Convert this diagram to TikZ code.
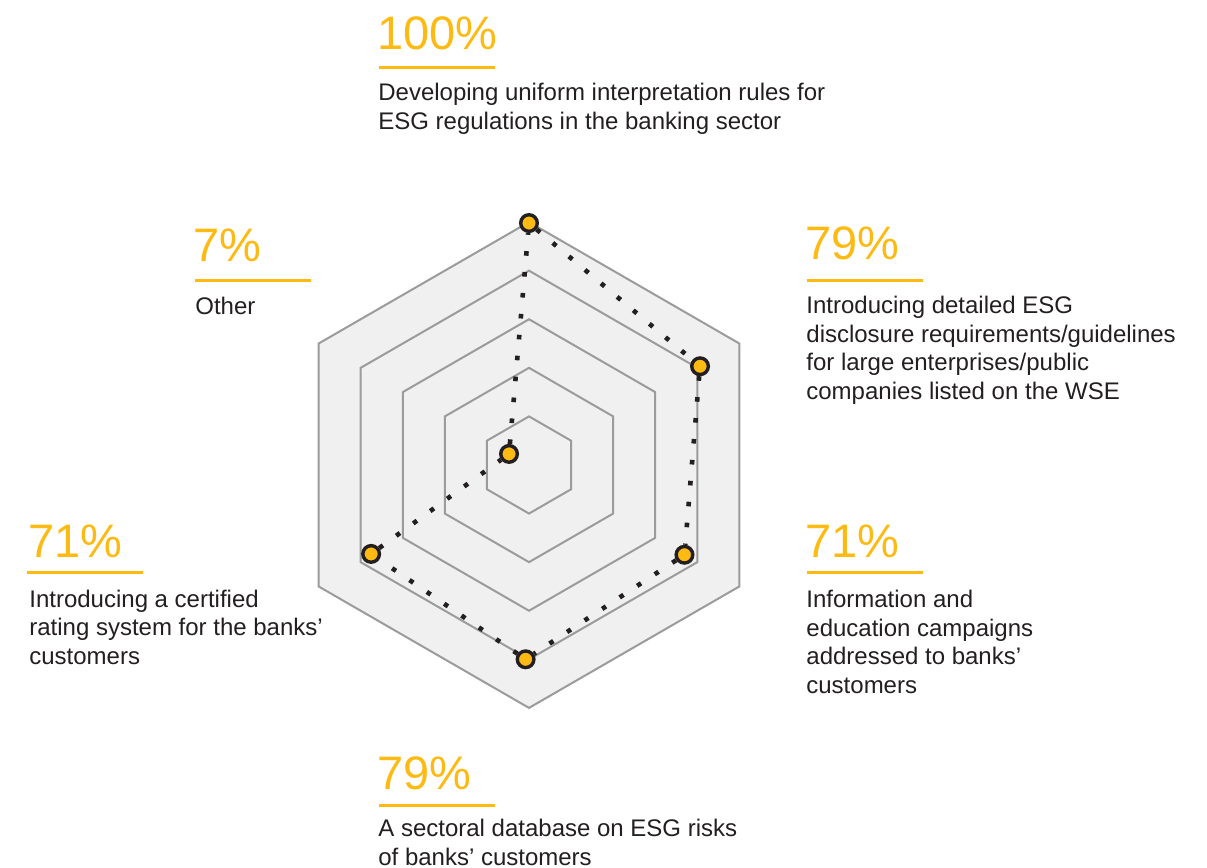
\documentclass[tikz,border=0pt]{standalone}
\usepackage{fontspec}
\setmainfont{Liberation Sans}
\definecolor{esgyellow}{RGB}{252,186,18}
\definecolor{ringgray}{RGB}{155,155,155}
\definecolor{webfill}{RGB}{240,240,240}
\definecolor{inkblack}{RGB}{35,31,32}
\def\s{0.017573}
\def\punkt#1#2{({(#1)*\s},{(868-(#2))*\s})}
\def\R{4.27}

\begin{document}
\begin{tikzpicture}[
  ring/.style={draw=ringgray,line width=1pt},
  dot/.style={circle,draw=inkblack,fill=esgyellow,line width=1.7pt,inner sep=0pt,minimum size=8.3pt},
  trail/.style={draw=inkblack,line width=2.3pt,dash pattern=on 2.3pt off 8.2pt},
  pct/.style={anchor=base west,inner sep=0pt,text=esgyellow,font=\fontsize{23.5}{26}\selectfont},
  bar/.style={draw=esgyellow,line width=1.5pt},
  desc/.style={anchor=base west,inner sep=0pt,align=left,text=inkblack,font=\fontsize{12}{14.5}\selectfont}
]
\useasboundingbox \punkt{0}{0} rectangle \punkt{1207}{868};
\path \punkt{529}{465} coordinate (c);

% web
\begin{scope}[shift={(c)}]
\fill[webfill] (90:\R) -- (30:\R) -- (-30:\R) -- (-90:\R) -- (-150:\R) -- (150:\R) -- cycle;
\foreach \r in {1,0.8,0.6,0.4,0.2}{
	\draw[ring] (90:{\r*\R}) -- (30:{\r*\R}) -- (-30:{\r*\R}) -- (-90:{\r*\R}) -- (-150:{\r*\R}) -- (150:{\r*\R}) -- cycle;
}
% data points
\node[dot] (d-top) at (90:{0.996*\R}) {};
\node[dot] (d-ur) at (30:{0.813*\R}) {};
\node[dot] (d-lr) at (-30:{0.739*\R}) {};
\node[dot] (d-bot) at (-91:{0.80*\R}) {};
\node[dot] (d-ll) at (-150.6:{0.746*\R}) {};
\node[dot] (d-ul) at (151:{0.094*\R}) {};
\end{scope}
\draw[trail] (d-top) -- (d-ur) -- (d-lr) -- (d-bot) -- (d-ll) -- (d-ul) -- (d-top);

% labels (desc nodes sit on their last baseline)
\node[pct] (p-top) at \punkt{377}{50} {100\%};
\draw[bar] \punkt{379}{68} -- \punkt{495}{68};
\node[desc] (t-top) at \punkt{378}{130} {Developing uniform interpretation rules for\\ESG regulations in the banking sector};

\node[pct] (p-ur) at \punkt{805}{260} {79\%};
\draw[bar] \punkt{807}{281} -- \punkt{923}{281};
\node[desc] (t-ur) at \punkt{806}{400} {Introducing detailed ESG\\disclosure requirements/guidelines\\for large enterprises/public\\companies listed on the WSE};

\node[pct] (p-lr) at \punkt{805}{558} {71\%};
\draw[bar] \punkt{807}{573} -- \punkt{923}{573};
\node[desc] (t-lr) at \punkt{806}{694} {Information and\\education campaigns\\addressed to banks'\\customers};

\node[pct] (p-bot) at \punkt{377}{790} {79\%};
\draw[bar] \punkt{379}{806} -- \punkt{495}{806};
\node[desc] (t-bot) at \punkt{378}{866} {A sectoral database on ESG risks\\of banks' customers};

\node[pct] (p-ll) at \punkt{28}{558} {71\%};
\draw[bar] \punkt{27}{573} -- \punkt{143}{573};
\node[desc] (t-ll) at \punkt{29}{665} {Introducing a certified\\rating system for the banks'\\customers};

\node[pct] (p-ul) at \punkt{193}{262} {7\%};
\draw[bar] \punkt{195}{281} -- \punkt{311}{281};
\node[desc] (t-ul) at \punkt{195}{315} {Other};
\end{tikzpicture}
\end{document}
